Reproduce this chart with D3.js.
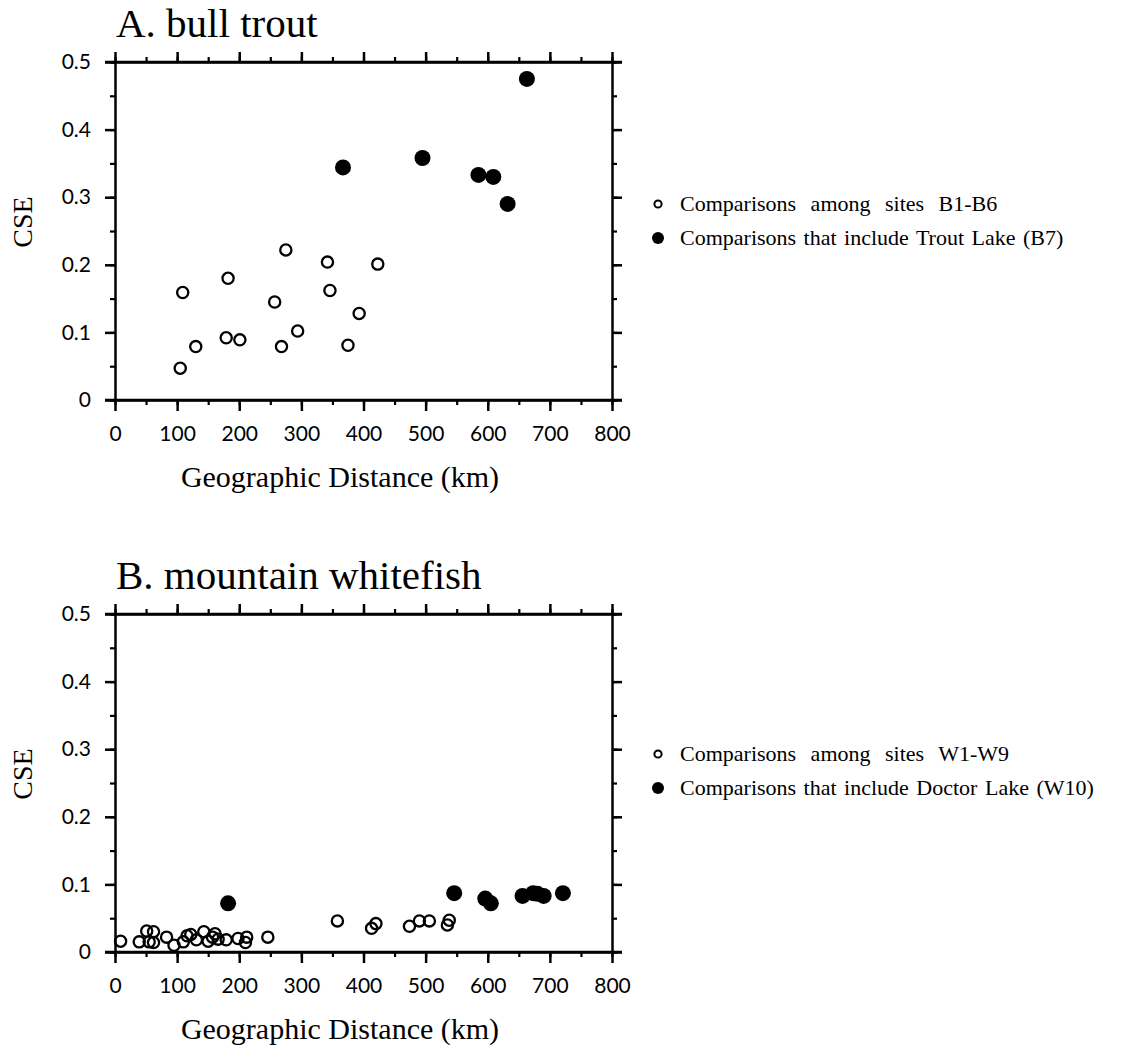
<!DOCTYPE html>
<html><head><meta charset="utf-8">
<script src="https://cdn.jsdelivr.net/npm/d3@7"></script>
<style>
body{margin:0;background:#fff;}
svg{display:block;}
</style></head>
<body>
<svg id="c" width="1133" height="1045"></svg>
<script>
// ---- data ----
const xTicks = [0,100,200,300,400,500,600,700,800];
const yTicks = [0,0.1,0.2,0.3,0.4,0.5];
const yTickLabels = ["0","0.1","0.2","0.3","0.4","0.5"];

const troutOpenX = [105,109,130,179,182,201,257,268,275,294,342,346,375,393,423];
const troutOpenY = [0.047,0.159,0.079,0.092,0.180,0.089,0.145,0.079,0.222,0.102,0.204,0.162,0.081,0.128,0.201];
const troutFilledX = [367,495,585,609,632,663];
const troutFilledY = [0.344,0.358,0.333,0.330,0.290,0.475];

const whiteOpenX = [9,39,51,55,62,62,83,95,110,116,131,143,150,161,166,179,198,210,212,246,358,413,420,474,490,506,535,538,122,157];
const whiteOpenY = [0.016,0.015,0.031,0.015,0.030,0.014,0.022,0.010,0.015,0.024,0.018,0.030,0.016,0.027,0.019,0.018,0.020,0.014,0.022,0.022,0.046,0.035,0.042,0.038,0.046,0.046,0.040,0.047,0.026,0.022];
const whiteFilledX = [182,546,596,605,656,673,680,690,721];
const whiteFilledY = [0.072,0.087,0.079,0.072,0.083,0.087,0.086,0.083,0.087];

const panels = [
  {title:"A. bull trout", top:62, ox:troutOpenX, oy:troutOpenY, fx:troutFilledX, fy:troutFilledY,
   leg:["Comparisons among sites B1-B6","Comparisons that include Trout Lake (B7)"], legY:204},
  {title:"B. mountain whitefish", top:614, ox:whiteOpenX, oy:whiteOpenY, fx:whiteFilledX, fy:whiteFilledY,
   leg:["Comparisons among sites W1-W9","Comparisons that include Doctor Lake (W10)"], legY:754}
];

const svg = d3.select("#c");
const L = 115, R = 612, H = 338;
const serif = "'Liberation Serif','Times New Roman',serif";
const sans = "Lato,'DejaVu Sans',sans-serif";

panels.forEach(p => {
  const g = svg.append("g");
  const x = d3.scaleLinear().domain([0,800]).range([L,R]);
  const y = d3.scaleLinear().domain([0,0.5]).range([p.top+H,p.top]);
  const minorX = d3.range(0,801,50);
  const minorY = d3.range(0,0.5001,0.05);

  function style(sel){
    sel.select(".domain").attr("stroke","#000").attr("stroke-width",2.5);
    sel.selectAll(".tick line").attr("stroke","#000").attr("stroke-width",2.5);
  }
  const mk = (axis, tr) => {
    const a = g.append("g").attr("transform",tr).call(axis);
    a.select(".domain").remove();
    a.selectAll("text").remove();
    a.selectAll(".tick line").attr("stroke","#000").attr("stroke-width",2.2);
  };
  mk(d3.axisBottom(x).tickValues(minorX).tickSize(5), `translate(0,${p.top+H})`);
  mk(d3.axisTop(x).tickValues(minorX).tickSize(5), `translate(0,${p.top})`);
  mk(d3.axisLeft(y).tickValues(minorY).tickSize(5), `translate(${L},0)`);
  mk(d3.axisRight(y).tickValues(minorY).tickSize(5), `translate(${R},0)`);

  const xb = g.append("g").attr("transform",`translate(0,${p.top+H})`)
    .call(d3.axisBottom(x).tickValues(xTicks).tickSize(11).tickSizeOuter(0).tickPadding(15).tickFormat(d3.format("d")));
  style(xb);
  xb.selectAll("text").attr("font-family",sans).attr("font-size",21).attr("fill","#000");
  const xt = g.append("g").attr("transform",`translate(0,${p.top})`)
    .call(d3.axisTop(x).tickValues(xTicks).tickSize(10).tickSizeOuter(0).tickFormat(""));
  style(xt);
  const yl = g.append("g").attr("transform",`translate(${L},0)`)
    .call(d3.axisLeft(y).tickValues(yTicks).tickSize(10).tickSizeOuter(0).tickPadding(14).tickFormat((d,i)=>yTickLabels[i]));
  style(yl);
  yl.selectAll("text").attr("font-family",sans).attr("font-size",21).attr("fill","#000");
  const yr = g.append("g").attr("transform",`translate(${R},0)`)
    .call(d3.axisRight(y).tickValues(yTicks).tickSize(10).tickSizeOuter(0).tickFormat(""));
  style(yr);
  g.append("line").attr("x1",L-10).attr("x2",R+10).attr("y1",y(0)).attr("y2",y(0)).attr("stroke","#000").attr("stroke-width",2.5);
  g.append("line").attr("x1",L-10).attr("x2",R+10).attr("y1",y(0.5)).attr("y2",y(0.5)).attr("stroke","#000").attr("stroke-width",2.5);

  // title
  g.append("text").attr("x",L+1).attr("y",p.top-25).text(p.title)
    .attr("font-family",serif).attr("font-size",41).attr("fill","#000");
  // axis labels
  g.append("text").attr("x",340).attr("y",p.top+H+87).attr("text-anchor","middle")
    .text("Geographic Distance (km)").attr("font-family",serif).attr("font-size",30).attr("fill","#000");
  g.append("text").attr("transform",`translate(32,${p.top+160}) rotate(-90)`).attr("text-anchor","middle")
    .text("CSE").attr("font-family",serif).attr("font-size",28).attr("fill","#000");

  // points
  g.selectAll(".o").data(p.ox.map((v,i)=>[v,p.oy[i]])).enter().append("circle")
    .attr("cx",d=>x(d[0])).attr("cy",d=>y(d[1])).attr("r",5.6)
    .attr("fill","none").attr("stroke","#000").attr("stroke-width",2.3);
  g.selectAll(".f").data(p.fx.map((v,i)=>[v,p.fy[i]])).enter().append("circle")
    .attr("cx",d=>x(d[0])).attr("cy",d=>y(d[1])).attr("r",8)
    .attr("fill","#000");

  // legend
  const lg = g.append("g");
  const gap = 34;
  lg.append("circle").attr("cx",658).attr("cy",p.legY).attr("r",3.6).attr("fill","none").attr("stroke","#000").attr("stroke-width",2);
  lg.append("circle").attr("cx",658).attr("cy",p.legY+gap).attr("r",6).attr("fill","#000");
  p.leg.forEach((t,i)=>{
    lg.append("text").attr("x",680).attr("y",p.legY+gap*i+7).text(t)
      .attr("font-family",serif).attr("font-size",22)
      .attr("word-spacing", i===0 ? "9px" : "2px").attr("fill","#000");
  });
});
</script>
</body></html>
